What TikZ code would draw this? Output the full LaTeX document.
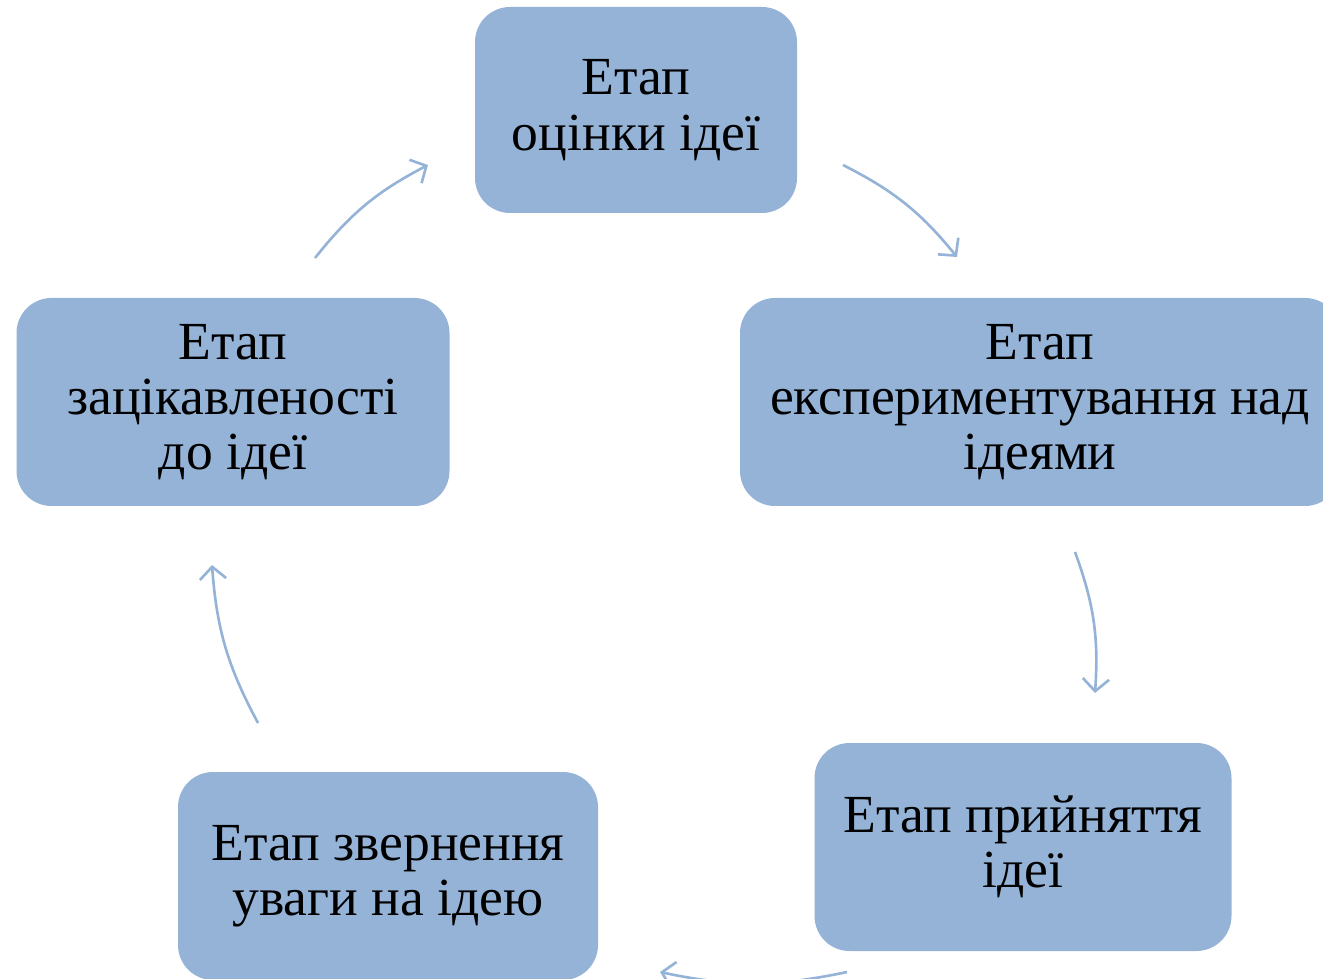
\documentclass[tikz,border=0pt]{standalone}
\usepackage{fontspec}
\setmainfont{Liberation Serif}
\usetikzlibrary{arrows.meta}
\definecolor{stagefill}{HTML}{95B3D7}
\begin{document}
\begin{tikzpicture}[
  stagebox/.style={fill=stagefill, rounded corners=0.7cm, align=center, inner sep=0pt,
    font=\fontsize{30.5}{31.5}\selectfont},
  cyclearrow/.style={-{Straight Barb[length=7pt,width=15pt]}, line width=1.5pt, stagefill, bend left=12}]
\useasboundingbox (0,0) rectangle (26.46,19.56);

% Stages
\node[stagebox, minimum width=6.44cm, minimum height=4.12cm] (eval) at (12.72,17.36) {Етап\\оцінки ідеї};
\node[stagebox, minimum width=12cm, minimum height=4.16cm] (exper) at (20.8,11.52) {Етап\\експериментування над\\ідеями};
\node[stagebox, minimum width=8.34cm, minimum height=4.16cm] (accept) at (20.46,2.62) {Етап прийняття\\ідеї};
\node[stagebox, minimum width=8.4cm, minimum height=4.16cm] (attn) at (7.76,2.04) {Етап звернення\\уваги на ідею};
\node[stagebox, minimum width=8.66cm, minimum height=4.16cm] (inter) at (4.66,11.52) {Етап\\зацікавленості\\до ідеї};

% Arrow ends
\coordinate (a1s) at (16.86,16.26); \coordinate (a1e) at (19.14,14.42);
\coordinate (a2s) at (21.5,8.52);   \coordinate (a2e) at (21.9,5.7);
\coordinate (a3s) at (16.94,0.12);  \coordinate (a3e) at (13.2,0.12);
\coordinate (a4s) at (5.16,5.1);    \coordinate (a4e) at (4.24,8.26);
\coordinate (a5s) at (6.3,14.4);    \coordinate (a5e) at (8.56,16.26);

% Cycle arrows
\draw[cyclearrow] (a1s) to (a1e);
\draw[cyclearrow] (a2s) to (a2e);
\draw[cyclearrow] (a3s) to (a3e);
\draw[cyclearrow] (a4s) to (a4e);
\draw[cyclearrow] (a5s) to (a5e);

\end{tikzpicture}
\end{document}
